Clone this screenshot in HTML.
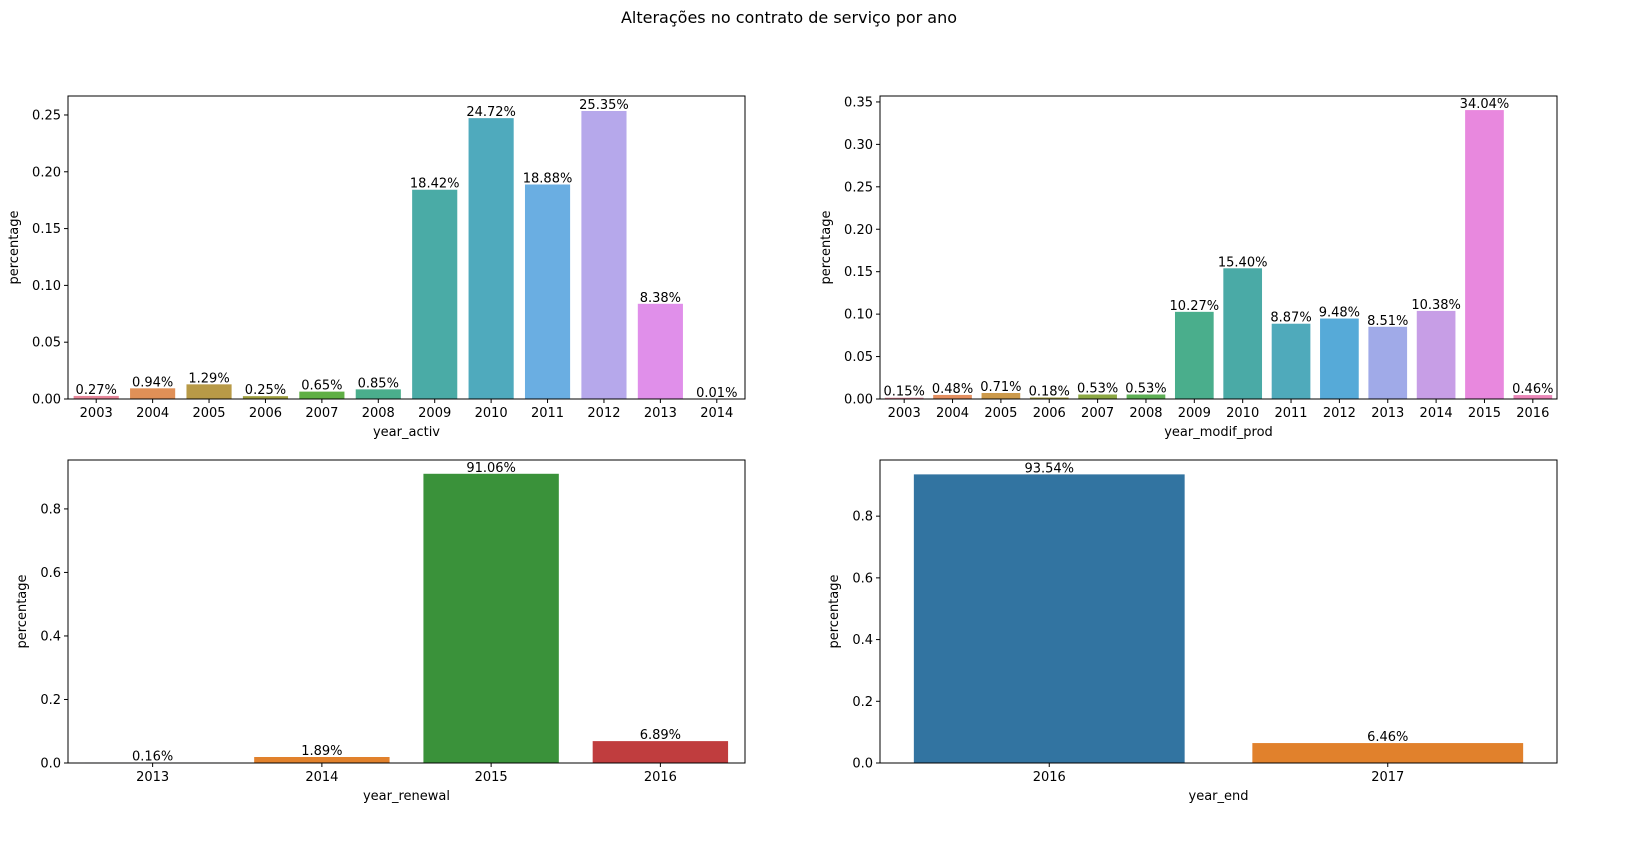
<!DOCTYPE html>
<html><head><meta charset="utf-8"><style>
html,body{margin:0;padding:0;background:#fff;overflow:hidden;width:1630px;height:846px;font-family:"DejaVu Sans","Liberation Sans",sans-serif;}
svg{display:block;}
svg text{font-family:"DejaVu Sans","Liberation Sans",sans-serif;}
</style></head><body>
<svg id="fig" width="1630" height="846" viewBox="0 0 1630 846" xmlns="http://www.w3.org/2000/svg">
<text x="789" y="23" text-anchor="middle" font-size="16">Alterações no contrato de serviço por ano</text>
</svg>
<script>
const activCats=["2003","2004","2005","2006","2007","2008","2009","2010","2011","2012","2013","2014"];
const activVals=[0.0027,0.0094,0.0129,0.0025,0.0065,0.0085,0.1842,0.2472,0.1888,0.2535,0.0838,0.0001];
const activColors=["#e8879a","#e09057","#b89a47","#a0a03f","#5faf45","#4aae8c","#4aaba6","#4faabd","#6aaee2","#b6a8eb","#e08fea","#eb86c0"];
const activTicks=[0,0.05,0.10,0.15,0.20,0.25];
const modCats=["2003","2004","2005","2006","2007","2008","2009","2010","2011","2012","2013","2014","2015","2016"];
const modVals=[0.0015,0.0048,0.0071,0.0018,0.0053,0.0053,0.1027,0.1540,0.0887,0.0948,0.0851,0.1038,0.3404,0.0046];
const modColors=["#e8879a","#e48f60","#cc9a4c","#a8a042","#8ca843","#5daf55","#4aae8c","#4aaaa6","#4faabb","#56aad8","#a0aae8","#c79ee6","#e888de","#eb86b8"];
const modTicks=[0,0.05,0.10,0.15,0.20,0.25,0.30,0.35];
const renCats=["2013","2014","2015","2016"];
const renVals=[0.0016,0.0189,0.9106,0.0689];
const renColors=["#3274a1","#e1812c","#3a923a","#c03d3e"];
const botTicks=[0,0.2,0.4,0.6,0.8];
const endCats=["2016","2017"];
const endVals=[0.9354,0.0646];
const endColors=["#3274a1","#e1812c"];

const NS="http://www.w3.org/2000/svg";
const fig=document.getElementById('fig');
function mk(tag,attrs,parent,txt){const e=document.createElementNS(NS,tag);for(const k in attrs)e.setAttribute(k,attrs[k]);if(txt!==undefined)e.textContent=txt;(parent||fig).appendChild(e);return e;}

function panel(name,x0,y0,w,h,ymax,cats,vals,colors,ticks,dec,xlabel){
  const g=mk('g',{});
  
  
  const ys=v=>y0+h-v/ymax*h;
  const bw=w/cats.length;
  const xs=i=>x0+bw*(i+0.5);
  cats.forEach((c,i)=>{
    const y=ys(vals[i]);
    const r=mk('rect',{x:xs(i)-bw*0.4,y:y,width:bw*0.8,height:y0+h-y,fill:colors[i]},g);
    
    
    const t=mk('text',{x:xs(i),y:y-2,'text-anchor':'middle','font-size':'13'},g,(vals[i]*100).toFixed(2)+'%');
    
    
    mk('line',{x1:xs(i),x2:xs(i),y1:y0+h,y2:y0+h+4,stroke:'#000'},g);
    const tl=mk('text',{x:xs(i),y:y0+h+18,'text-anchor':'middle','font-size':'13'},g,c);
    
    
  });
  ticks.forEach(v=>{
    const y=ys(v);
    mk('line',{x1:x0-4,x2:x0,y1:y,y2:y,stroke:'#000'},g);
    const tl=mk('text',{x:x0-7,y:y+4.5,'text-anchor':'end','font-size':'13'},g,v.toFixed(dec));
    
    
  });
  const fr=mk('rect',{x:x0,y:y0,width:w,height:h,fill:'none',stroke:'#000','stroke-width':'1'},g);
  
  
  const xl=mk('text',{x:x0+w/2,y:y0+h+37,'text-anchor':'middle','font-size':'13'},g,xlabel);
  
  
  const yx=x0-(dec==2?50:42), yc=y0+h/2;
  const yl=mk('text',{x:yx,y:yc,'text-anchor':'middle','font-size':'13',transform:`rotate(-90 ${yx} ${yc})`},g,'percentage');
  
  
}
panel('year-activ',68,96,677,303,0.2667,activCats,activVals,activColors,activTicks,2,'year_activ');
panel('year-modif-prod',880,96,677,303,0.357,modCats,modVals,modColors,modTicks,2,'year_modif_prod');
panel('year-renewal',68,460,677,303,0.954,renCats,renVals,renColors,botTicks,1,'year_renewal');
panel('year-end',880,460,677,303,0.982,endCats,endVals,endColors,botTicks,1,'year_end');
</script>
</body></html>
